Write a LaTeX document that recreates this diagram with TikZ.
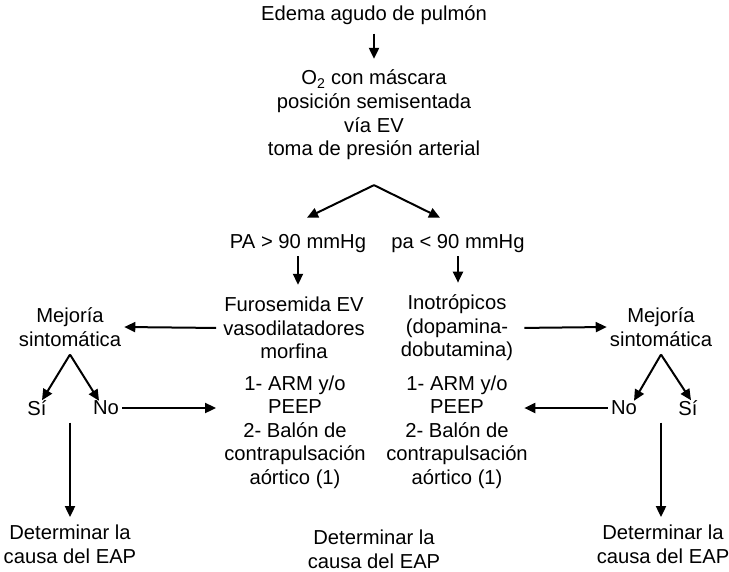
\documentclass[tikz,border=0pt]{standalone}
\usepackage{fontspec}
\setmainfont{Liberation Sans}
\usetikzlibrary{arrows.meta}

\begin{document}
\begin{tikzpicture}[x=1pt, y=-1pt, font=\fontsize{20.2}{23.6}\selectfont]

% Fix the page to the size of the chart
\useasboundingbox (0,0) rectangle (729,571);

% Define styles for texts and arrows
\tikzstyle{txt} = [align=center, inner sep=3pt]
\tikzstyle{arr} = [line width=2pt, -{Triangle[length=11pt, width=10pt]}]

% Main column
\node[txt] (eap) at (374,15) {Edema agudo de pulmón};
\node[txt] (o2) at (374,115) {O\textsubscript{2} con máscara\\posición semisentada\\vía EV\\toma de presión arterial};
\coordinate (split) at ([yshift=-22pt]o2.south);

% Blood pressure branches
\node[txt] (pahi) at (298,244) {PA > 90 mmHg};
\node[txt] (palo) at (458,244) {pa < 90 mmHg};
\node[txt] (furo) at (294,328) {Furosemida EV\\vasodilatadores\\morfina};
\node[txt] (ino) at (457,328) {Inotrópicos\\(dopamina-\\dobutamina)};
\node[txt] (armL) at (295,432) {1- ARM y/o\\PEEP\\2- Balón de\\contrapulsación\\aórtico (1)};
\node[txt] (armR) at (457,432) {1- ARM y/o\\PEEP\\2- Balón de\\contrapulsación\\aórtico (1)};
\node[txt, inner sep=0.5pt] (detM) at (374,549) {Determinar la\\causa del EAP};

% Left side
\node[txt] (mejL) at (70,327) {Mejoría\\sintomática};
\coordinate (splitL) at ([yshift=-5pt]mejL.south);
\node[txt] (siL) at (37,408) {Sí};
\node[txt] (noL) at (106,408) {No};
\node[txt, inner sep=0.5pt] (detL) at (70,544) {Determinar la\\causa del EAP};

% Right side
\node[txt] (mejR) at (661,327) {Mejoría\\sintomática};
\coordinate (splitR) at ([yshift=-5pt]mejR.south);
\node[txt] (noR) at (624,408) {No};
\node[txt] (siR) at (688,408) {Sí};
\node[txt, inner sep=0.5pt] (detR) at (663,544) {Determinar la\\causa del EAP};

% Arrows
\draw[arr, shorten <=6pt, shorten >=8pt] (eap.south) -- (o2.north);
\draw[arr] (split) -- ([xshift=9pt, yshift=14pt]pahi.north);
\draw[arr] (split) -- ([xshift=-18pt, yshift=14pt]palo.north);
\draw[arr, shorten >=9pt] (pahi.south) -- (pahi.south |- furo.north);
\draw[arr, shorten >=9pt] (palo.south) -- (palo.south |- ino.north);

\draw[arr, shorten <=4pt] (furo.west) -- (mejL.east);
\draw[arr, shorten >=4pt] (noL.east) -- (noL.east -| furo.west);
\draw[arr] (splitL) -- ([xshift=5pt, yshift=-3pt]siL.north);
\draw[arr] (splitL) -- ([xshift=-7pt, yshift=-3pt]noL.north);
\draw[arr, shorten <=4pt, shorten >=7pt] (siL.south -| mejL) -- (mejL |- detL.north);

\draw[arr, shorten <=8pt] (ino.east) -- (mejR.west);
\draw[arr, shorten >=8pt] (noR.west) -- (noR.west -| ino.east);
\draw[arr] (splitR) -- ([xshift=10pt, yshift=-3pt]noR.north);
\draw[arr] (splitR) -- ([xshift=3pt, yshift=-3pt]siR.north);
\draw[arr, shorten <=4pt, shorten >=7pt] (siR.south -| mejR) -- (mejR |- detR.north);

\end{tikzpicture}
\end{document}
